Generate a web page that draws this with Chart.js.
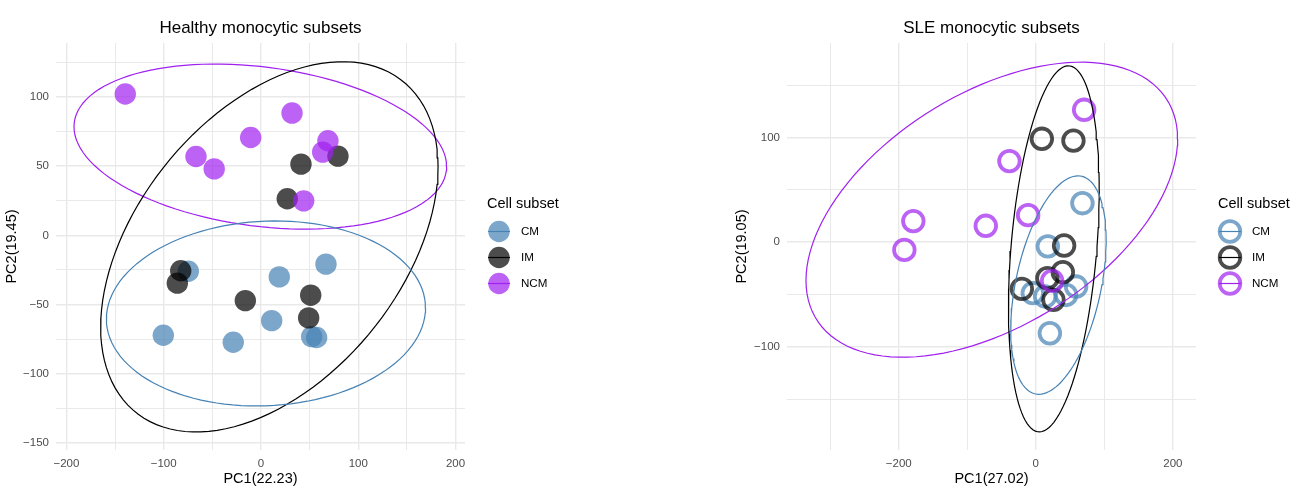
<!DOCTYPE html>
<html>
<head>
<meta charset="utf-8">
<script src="https://cdn.jsdelivr.net/npm/chart.js@4.4.1/dist/chart.umd.min.js"></script>
<style>
  html, body { margin: 0; padding: 0; background: #ffffff; }
  #wrap { position: relative; width: 1303px; height: 501px; }
  canvas { position: absolute; top: 0; }
</style>
</head>
<body>
<div id="wrap">
  <canvas id="healthy" width="651" height="501" style="left:0px"></canvas>
  <canvas id="sle" width="652" height="501" style="left:651px"></canvas>
</div>
<script>
// ---- legend / group definitions ----
const subsets = ['CM', 'IM', 'NCM'];
const subsetRgb = ['70,130,180', '0,0,0', '160,32,240'];
const pointAlpha = 0.7;

// ---- Healthy donors: PCA scores ----
const healthyCmPc1 = [-74.7, 18.8, 66.8, -100.4, -28.5, 11.0, 52.1, 57.2];
const healthyCmPc2 = [-25.9, -30.0, -20.8, -72.1, -77.2, -61.6, -73.1, -73.8];
const healthyImPc1 = [41.1, 79.1, 27.0, -82.5, -86.0, -16.1, 51.1, 49.0];
const healthyImPc2 = [51.4, 57.2, 26.4, -25.6, -34.5, -47.1, -43.2, -59.6];
const healthyNcmPc1 = [-139.5, -66.8, -48.1, -10.6, 31.9, 68.8, 63.4, 43.9];
const healthyNcmPc2 = [102.1, 56.9, 48.0, 70.7, 88.3, 68.3, 60.1, 24.9];

// Healthy 95% ellipses (CM, IM, NCM): centre, half-extent in x and y, tilt
const healthyEllipseCx = [5.1, 8.6, -0.7];
const healthyEllipseCy = [-56.4, -8.3, 64.1];
const healthyEllipseRx = [164.0, 173.4, 191.5];
const healthyEllipseRy = [66.8, 133.7, 59.6];
const healthyEllipseTilt = [0.06, 0.434, -0.24];

// ---- SLE patients: PCA scores ----
const sleCmPc1 = [17.5, -4.4, 58.8, 44.2, 20.5, 13.6, 68.0];
const sleCmPc2 = [-4.0, -48.7, -42.4, -50.4, -87.0, -51.9, 37.2];
const sleImPc1 = [8.8, 54.9, 41.3, 39.4, 16.9, -20.4, 25.7];
const sleImPc2 = [98.7, 97.0, -3.2, -28.7, -34.4, -44.6, -55.1];
const sleNcmPc1 = [70.5, -38.5, -11.2, -73.0, -178.7, -191.8, 23.8];
const sleNcmPc2 = [126.4, 77.4, 25.8, 15.6, 20.1, -7.4, -37.0];

// SLE 95% ellipses (CM, IM, NCM)
const sleEllipseCx = [33.0, 26.3, -64.2];
const sleEllipseCy = [-41.0, -6.4, 31.0];
const sleEllipseRx = [69.6, 66.2, 271.1];
const sleEllipseRy = [104.3, 174.8, 140.9];
const sleEllipseTilt = [0.41, 0.32, 0.48];

// ---- axis ticks ----
const healthyXMajor = [-200, -100, 0, 100, 200];
const healthyXMinor = [-150, -50, 50, 150];
const healthyYMajor = [-150, -100, -50, 0, 50, 100];
const healthyYMinor = [-125, -75, -25, 25, 75, 125];
const sleXMajor = [-200, 0, 200];
const sleXMinor = [-300, -100, 100];
const sleYMajor = [-100, 0, 100];
const sleYMinor = [-150, -50, 50, 150];

const FONT = '"Liberation Sans", Arial, Helvetica, sans-serif';

function zipPoints(xs, ys) {
  return xs.map((x, i) => ({ x: x, y: ys[i] }));
}

// outline of an ellipse given centre, x/y half-extents and tilt
function ellipseOutline(cx, cy, rx, ry, tilt) {
  const phi = Math.asin(tilt);
  const pts = [];
  const n = 120;
  for (let i = 0; i <= n; i++) {
    const t = (i / n) * 2 * Math.PI;
    pts.push({ x: cx + rx * Math.cos(t), y: cy + ry * Math.sin(t + phi) });
  }
  return pts;
}

function fmtTick(v) {
  return v < 0 ? '\u2212' + Math.abs(v) : String(v);
}

function axis(opts) {
  const { min, max, major, minor, title, isX, titlePad, fitSize } = opts;
  const all = major.concat(minor).sort((a, b) => a - b);
  return {
    type: 'linear',
    position: isX ? 'bottom' : 'left',
    min: min,
    max: max,
    afterBuildTicks: (s) => { s.ticks = all.map(v => ({ value: v })); },
    afterFit: (s) => { if (isX) { s.height = fitSize; } else { s.width = fitSize; } },
    ticks: {
      autoSkip: false,
      maxRotation: 0,
      minRotation: 0,
      padding: 7,
      color: '#4d4d4d',
      font: { family: FONT, size: 11.5 },
      callback: (v) => major.includes(v) ? fmtTick(v) : ''
    },
    grid: {
      color: '#e9e9e9',
      lineWidth: (c) => (c.tick && major.includes(c.tick.value)) ? 1.4 : 1.0,
      drawTicks: false
    },
    border: { display: false },
    title: {
      display: true,
      text: title,
      color: '#000000',
      font: { family: FONT, size: 14.5 },
      padding: titlePad
    }
  };
}

function decorPlugin(titleText, hollow) {
  return {
    id: 'decor',
    afterDraw(chart) {
      const ctx = chart.ctx;
      const a = chart.chartArea;
      ctx.save();
      // panel title
      ctx.fillStyle = '#000000';
      ctx.font = '17px ' + FONT;
      ctx.textAlign = 'center';
      ctx.textBaseline = 'alphabetic';
      ctx.fillText(titleText, (a.left + a.right) / 2, 33);
      // legend
      const lx = a.right + 22;
      ctx.textAlign = 'left';
      ctx.font = '14.5px ' + FONT;
      ctx.fillText('Cell subset', lx, 208);
      ctx.font = '11.6px ' + FONT;
      ctx.textBaseline = 'middle';
      subsets.forEach((name, i) => {
        const ky = 231.5 + i * 26;
        const kx = a.right + 34;
        const rgb = subsetRgb[i];
        ctx.beginPath();
        if (hollow) {
          ctx.arc(kx, ky, 10.3, 0, Math.PI * 2);
          ctx.lineWidth = 3.8;
          ctx.strokeStyle = 'rgba(' + rgb + ',' + pointAlpha + ')';
          ctx.stroke();
        } else {
          ctx.arc(kx, ky, 10.7, 0, Math.PI * 2);
          ctx.fillStyle = 'rgba(' + rgb + ',' + pointAlpha + ')';
          ctx.fill();
        }
        ctx.beginPath();
        ctx.moveTo(kx - 11, ky);
        ctx.lineTo(kx + 11, ky);
        ctx.lineWidth = 1.2;
        ctx.strokeStyle = 'rgb(' + rgb + ')';
        ctx.stroke();
        ctx.fillStyle = '#000000';
        ctx.fillText(name, a.right + 56, ky + 0.5);
      });
      ctx.restore();
    }
  };
}

function buildChart(canvasId, p) {
  const ellipseSets = subsets.map((name, i) => ({
    label: name + ' ellipse',
    data: ellipseOutline(p.ecx[i], p.ecy[i], p.erx[i], p.ery[i], p.etilt[i]),
    showLine: true,
    fill: false,
    tension: 0,
    pointRadius: 0,
    borderWidth: 1.2,
    borderColor: 'rgb(' + subsetRgb[i] + ')'
  }));
  // points: later index is drawn first, so CM sits lowest
  const pointSets = [2, 1, 0].map(i => ({
    label: subsets[i],
    data: zipPoints(p.pc1[i], p.pc2[i]),
    showLine: false,
    pointStyle: 'circle',
    pointRadius: p.hollow ? 10.3 : 10.7,
    pointBorderWidth: p.hollow ? 3.8 : 0,
    pointBackgroundColor: p.hollow ? 'rgba(0,0,0,0)' : 'rgba(' + subsetRgb[i] + ',' + pointAlpha + ')',
    pointBorderColor: 'rgba(' + subsetRgb[i] + ',' + pointAlpha + ')'
  }));
  return new Chart(document.getElementById(canvasId), {
    type: 'scatter',
    data: { datasets: ellipseSets.concat(pointSets) },
    options: {
      responsive: false,
      animation: false,
      events: [],
      layout: { padding: p.padding },
      plugins: { legend: { display: false }, tooltip: { enabled: false }, title: { display: false } },
      scales: {
        x: axis({ min: p.xmin, max: p.xmax, major: p.xMajor, minor: p.xMinor, title: p.xTitle,
                  isX: true, titlePad: { top: 0, bottom: 13 }, fitSize: 51 }),
        y: axis({ min: p.ymin, max: p.ymax, major: p.yMajor, minor: p.yMinor, title: p.yTitle,
                  isX: false, titlePad: { top: p.yTitlePad, bottom: 0 }, fitSize: 56 })
      }
    },
    plugins: [decorPlugin(p.title, p.hollow)]
  });
}

buildChart('healthy', {
  title: 'Healthy monocytic subsets',
  hollow: false,
  pc1: [healthyCmPc1, healthyImPc1, healthyNcmPc1],
  pc2: [healthyCmPc2, healthyImPc2, healthyNcmPc2],
  ecx: healthyEllipseCx, ecy: healthyEllipseCy, erx: healthyEllipseRx,
  ery: healthyEllipseRy, etilt: healthyEllipseTilt,
  xmin: -210.7, xmax: 209.7, ymin: -155.0, ymax: 138.9,
  xMajor: healthyXMajor, xMinor: healthyXMinor, yMajor: healthyYMajor, yMinor: healthyYMinor,
  xTitle: 'PC1(22.23)', yTitle: 'PC2(19.45)', yTitlePad: 3,
  padding: { left: 0, top: 43, right: 186, bottom: 0 }
});

buildChart('sle', {
  title: 'SLE monocytic subsets',
  hollow: true,
  pc1: [sleCmPc1, sleImPc1, sleNcmPc1],
  pc2: [sleCmPc2, sleImPc2, sleNcmPc2],
  ecx: sleEllipseCx, ecy: sleEllipseCy, erx: sleEllipseRx,
  ery: sleEllipseRy, etilt: sleEllipseTilt,
  xmin: -363.0, xmax: 233.7, ymin: -198.5, ymax: 190.2,
  xMajor: sleXMajor, xMinor: sleXMinor, yMajor: sleYMajor, yMinor: sleYMinor,
  xTitle: 'PC1(27.02)', yTitle: 'PC2(19.05)', yTitlePad: 2,
  padding: { left: 80, top: 43, right: 107, bottom: 0 }
});
</script>
</body>
</html>
